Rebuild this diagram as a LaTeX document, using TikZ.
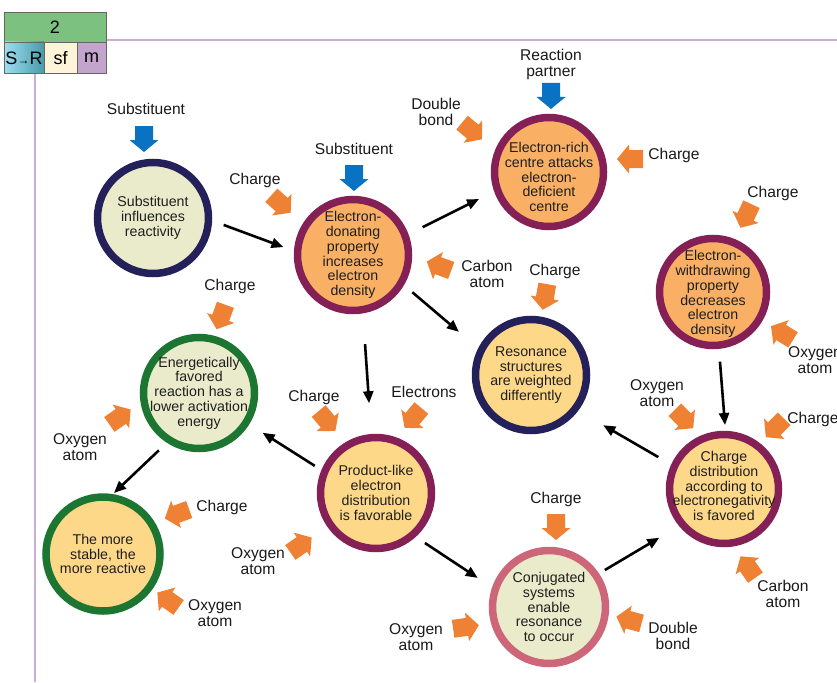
\documentclass[tikz,border=0pt]{standalone}
\usepackage{fontspec}
\setmainfont{Liberation Sans}
\usetikzlibrary{arrows.meta,calc}

\definecolor{navy}{RGB}{36,33,90}
\definecolor{maroon}{RGB}{133,32,86}
\definecolor{leafgreen}{RGB}{28,118,50}
\definecolor{rose}{RGB}{205,102,120}
\definecolor{peach}{RGB}{249,176,100}
\definecolor{butter}{RGB}{253,216,136}
\definecolor{cream}{RGB}{233,235,203}
\definecolor{arrorange}{RGB}{238,129,51}
\definecolor{arrblue}{RGB}{10,114,194}
\definecolor{rulepurple}{RGB}{201,174,214}
\definecolor{hdrgreen}{RGB}{125,193,129}
\definecolor{hdrsf}{RGB}{254,244,218}
\definecolor{hdrm}{RGB}{194,164,204}

% a short block arrow centred on the origin, pointing along +x
\newcommand\OrArrow[3]{\pic[rotate=#3] at (#1,-#2) {barrow=arrorange};}
\newcommand\BlArrow[3]{\pic[rotate=#3] at (#1,-#2) {barrow=arrblue};}

\begin{document}
\begin{tikzpicture}[x=1pt,y=1pt,
  circ/.style={circle, line width=7.5pt, minimum size=111pt, inner sep=0pt},
  ctext/.style={align=center, inner sep=0pt, text=black!88,
                font=\fontsize{14.2}{14.8}\selectfont},
  lbl/.style={align=center, inner sep=0pt, text=black!90,
              font=\fontsize{15.6}{16}\selectfont},
  hlbl/.style={inner sep=0pt, font=\fontsize{18}{18}\selectfont},
  conn/.style={line width=2.6pt, -{Triangle[length=12pt,width=10pt]}},
  hcell/.style={draw=black!60, line width=0.8pt},
  barrow/.pic={\fill[#1] (-13,-9) -- (1,-9) -- (1,-14.5) -- (13,0)
                 -- (1,14.5) -- (1,9) -- (-13,9) -- cycle;},
]
\useasboundingbox (0,0) rectangle (837,-682);
\clip (0,0) rectangle (837,-682);

% header block and rules
\draw[rulepurple, line width=1.8pt] (106,-40) -- (837,-40);
\draw[rulepurple, line width=1.8pt] (35,-73) -- (35,-682);
\fill[hdrgreen] (4,-12) rectangle (106,-42);
\shade[left color={rgb,255:red,160;green,222;blue,242}, right color={rgb,255:red,70;green,156;blue,168}]
  (4,-42) rectangle (44,-73);
\fill[hdrsf] (44,-42) rectangle (77,-73);
\fill[hdrm] (77,-42) rectangle (106,-73);
\draw[hcell] (4,-12) rectangle (106,-42);
\draw[hcell] (4,-42) rectangle (44,-73);
\draw[hcell] (44,-42) rectangle (77,-73);
\draw[hcell] (77,-42) rectangle (106,-73);
\node[hlbl] (hnum) at (55,-27) {2};
\node[hlbl] (hsr) at (24,-58) {S{\fontsize{12}{12}\selectfont→}R};
\node[hlbl] (hsf) at (60.5,-58) {sf};
\node[hlbl] (hm) at (91.5,-58) {m};

% concept circles
\node[circ, draw=navy, fill=cream] (c1) at (153,-218) {};
\node[circ, draw=maroon, fill=peach] (c2) at (353,-255) {};
\node[circ, draw=maroon, fill=peach, minimum size=109pt] (c3) at (549,-172) {};
\node[circ, draw=maroon, fill=peach, minimum size=107pt] (c4) at (713,-292) {};
\node[circ, draw=navy, fill=butter] (c5) at (531,-375) {};
\node[circ, draw=leafgreen, fill=cream] (c6) at (199,-393) {};
\node[circ, draw=maroon, fill=butter] (c7) at (376,-493) {};
\node[circ, draw=maroon, fill=butter, minimum size=109pt] (c8) at (724,-489) {};
\node[circ, draw=leafgreen, fill=butter, minimum size=114pt] (c9) at (103,-554) {};
\node[circ, draw=rose, fill=cream, minimum size=113pt] (c10) at (549,-607) {};

\node[ctext] (t1) at (c1) {Substituent\\influences\\reactivity};
\node[ctext] (t2) at (c2) {Electron-\\donating\\property\\increases\\electron\\density};
\node[ctext, yshift=-5pt] (t3) at (c3) {Electron-rich\\centre attacks\\electron-\\deficient\\centre};
\node[ctext, yshift=-2pt] (t4) at (c4) {Electron-\\withdrawing\\property\\decreases\\electron\\density};
\node[ctext] (t5) at (c5) {Resonance\\structures\\are weighted\\differently};
\node[ctext] (t6) at (c6) {Energetically\\favored\\reaction has a\\lower activation\\energy};
\node[ctext] (t7) at (c7) {Product-like\\electron\\distribution\\is favorable};
\node[ctext, yshift=3pt] (t8) at (c8) {Charge\\distribution\\according to\\electronegativity\\is favored};
\node[ctext] (t9) at (c9) {The more\\stable, the\\more reactive};
\node[ctext] (t10) at (c10) {Conjugated\\systems\\enable\\resonance\\to occur};

% connectors between the circles
\draw[conn] ($(c1)+(-5.6:71)$) -- ($(c2)+(173.5:70)$);
\draw[conn] ($(c2)+(21.8:75)$) -- ($(c3)+(-158.9:75)$);
\draw[conn] ($(c2)+(-32.1:70)$) -- ($(c5)+(149.1:84)$);
\draw[conn] ($(c2)+(-82.3:90)$) -- ($(c7)+(94.4:90)$);
\draw[conn] ($(c7)+(156.1:67)$) -- ($(c6)+(-32:75)$);
\draw[conn] ($(c6)+(-125:70)$) -- ($(c9)+(79.8:62)$);
\draw[conn] ($(c7)+(-45.6:70)$) -- ($(c10)+(157.8:77)$);
\draw[conn] ($(c10)+(33.5:67)$) -- ($(c8)+(-143:81)$);
\draw[conn] ($(c8)+(154.1:73)$) -- ($(c5)+(-34.8:88)$);
\draw[conn] ($(c4)+(-84.3:70)$) -- ($(c8)+(89.1:64)$);

% blue input arrows
\BlArrow{144}{139}{-90}
\BlArrow{354}{178}{-90}
\BlArrow{551}{96}{-90}

% orange influence arrows
\OrArrow{281}{204}{-42}
\OrArrow{472}{131}{-40}
\OrArrow{630}{159}{180}
\OrArrow{746}{216}{-115}
\OrArrow{782}{333}{148}
\OrArrow{775}{428}{-135}
\OrArrow{684}{419}{-45}
\OrArrow{748}{567}{125}
\OrArrow{439}{266}{160}
\OrArrow{545}{297}{-100}
\OrArrow{221}{317}{-110}
\OrArrow{120}{417}{35}
\OrArrow{327}{421}{-50}
\OrArrow{413}{418}{-130}
\OrArrow{301}{545}{35}
\OrArrow{177}{514}{-160}
\OrArrow{168}{600}{145}
\OrArrow{556}{527}{-90}
\OrArrow{466}{627}{8}
\OrArrow{629}{620}{165}

% labels
\node[lbl] (l1) at (146,-109) {Substituent};
\node[lbl] (l2) at (354,-149) {Substituent};
\node[lbl] (l3) at (551,-64) {Reaction\\partner};
\node[lbl] (l4) at (255,-180) {Charge};
\node[lbl] (l5) at (436,-112) {Double\\bond};
\node[lbl] (l6) at (674,-155) {Charge};
\node[lbl] (l7) at (773,-193) {Charge};
\node[lbl] (l8) at (815,-360) {Oxygen\\atom};
\node[lbl] (l9) at (813,-419) {Charge};
\node[lbl] (l10) at (657,-393) {Oxygen\\atom};
\node[lbl] (l11) at (783,-594) {Carbon\\atom};
\node[lbl] (l12) at (487,-274) {Carbon\\atom};
\node[lbl] (l13) at (555,-271) {Charge};
\node[lbl] (l14) at (230,-286) {Charge};
\node[lbl] (l15) at (80,-447) {Oxygen\\atom};
\node[lbl] (l16) at (314,-397) {Charge};
\node[lbl] (l17) at (424,-392) {Electrons};
\node[lbl] (l18) at (258,-561) {Oxygen\\atom};
\node[lbl] (l19) at (222,-507) {Charge};
\node[lbl] (l20) at (215,-613) {Oxygen\\atom};
\node[lbl] (l21) at (556,-499) {Charge};
\node[lbl] (l22) at (416,-637) {Oxygen\\atom};
\node[lbl] (l23) at (673,-636) {Double\\bond};
\end{tikzpicture}
\end{document}
